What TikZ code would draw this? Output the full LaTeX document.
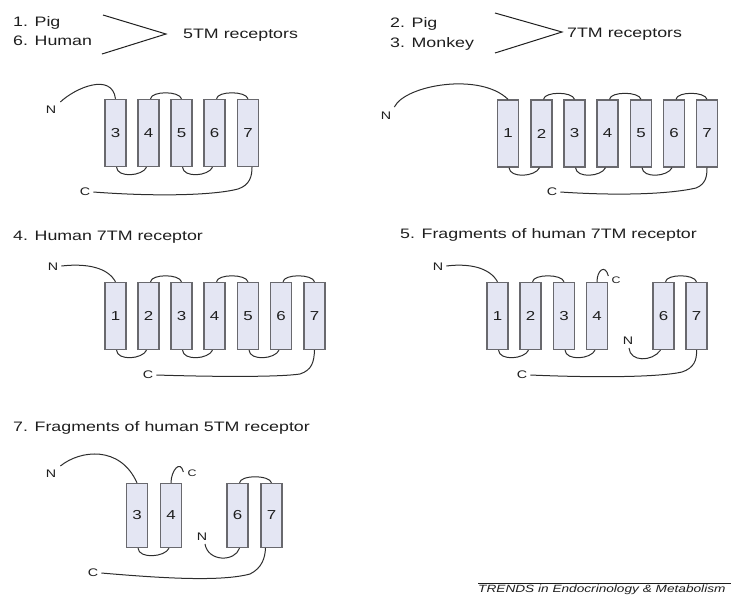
\documentclass[tikz,border=0pt]{standalone}
\usepackage{fontspec}
\setmainfont{Liberation Sans}[FakeStretch=1.3]
\usetikzlibrary{calc}
\definecolor{boxfill}{RGB}{228,230,243}
\definecolor{boxline}{RGB}{105,105,110}
\definecolor{loopc}{RGB}{45,45,45}
\definecolor{txt}{RGB}{30,30,30}
\newcommand\tmtop[2]{\draw[chain] ($(#1.north)+(2,0)$) .. controls ($(#1.north)+(3,-8)$) and ($(#2.north)+(-2,-8)$) .. (#2.north);}
\newcommand\tmbot[2]{\draw[chain] ($(#1.south)+(1,0)$) .. controls ($(#1.south)+(2,11)$) and ($(#2.south)+(-6,9)$) .. ($(#2.south)+(-2,0)$);}
\begin{document}
\begin{tikzpicture}[x=1pt,y=-1pt,
  tm/.style={draw=boxline, line width=1.4pt, fill=boxfill, minimum width=21pt, minimum height=67pt, inner sep=0pt, font=\fontsize{13}{13}\selectfont, text=txt},
  tms/.style={tm, minimum height=64pt},
  lbl/.style={font=\fontsize{13.7}{16}\selectfont, text=txt, inner sep=0pt, anchor=base west},
  nc/.style={font=\fontsize{11}{11}\selectfont, text=txt, inner sep=0pt},
  ncs/.style={font=\fontsize{9.5}{10}\selectfont, text=txt, inner sep=0pt},
  chain/.style={draw=loopc, line width=1pt},
  brk/.style={draw=txt, line width=1pt}]
\useasboundingbox (0,0) rectangle (731,598);

% ---------- Panel 1 ----------
\node[lbl] (t1a) at (13,26) {1. Pig};
\node[lbl] (t1b) at (13,45) {6. Human};
\node[lbl] (t1c) at (183,38) {5TM receptors};
\draw[brk] (103,15) -- (166,34) -- (102,54);
\node[tm] (a3) at (115.5,133) {3};
\node[tm] (a4) at (148.5,133) {4};
\node[tm] (a5) at (181.5,133) {5};
\node[tm] (a6) at (214.5,133) {6};
\node[tm] (a7) at (248,133) {7};
\node[nc] (aN) at (51,110) {N};
\node[nc] (aC) at (85,192) {C};
\draw[chain] ($(aN.north east)+(4,-4)$) .. controls (75,88) and (112,72) .. (a3.north);
\tmbot{a3}{a4} \tmtop{a4}{a5} \tmbot{a5}{a6} \tmtop{a6}{a7}
\draw[chain] ($(aC.east)+(3,0)$) .. controls (160,197) and (215,195) .. (238,189) .. controls (250,185) and (252,176) .. ($(a7.south)+(4,0)$);

% ---------- Panel 2 ----------
\node[lbl] (t2a) at (390,27) {2. Pig};
\node[lbl] (t2b) at (390,47) {3. Monkey};
\node[lbl] (t2c) at (567,37) {7TM receptors};
\draw[brk] (495,13) -- (562,32) -- (495,53);
\node[tm] (b1) at (508,133.5) {1};
\node[tm] (b2) at (541.5,133.5) {2};
\node[tm] (b3) at (574.5,133.5) {3};
\node[tm] (b4) at (607.5,133.5) {4};
\node[tm] (b5) at (641,133.5) {5};
\node[tm] (b6) at (674,133.5) {6};
\node[tm] (b7) at (707,133.5) {7};
\node[nc] (bN) at (386,116) {N};
\node[nc] (bC) at (552,192) {C};
\draw[chain] ($(bN.north east)+(3,-5)$) .. controls (405,85) and (480,72) .. (b1.north);
\tmbot{b1}{b2} \tmtop{b2}{b3} \tmbot{b3}{b4} \tmtop{b4}{b5} \tmbot{b5}{b6} \tmtop{b6}{b7}
\draw[chain] ($(bC.east)+(3,0)$) .. controls (620,196) and (670,194) .. (696,188) .. controls (706,184) and (707,176) .. (b7.south);

% ---------- Panel 3 ----------
\node[lbl] (t3) at (13,240) {4. Human 7TM receptor};
\node[tm] (c1) at (115.5,316) {1};
\node[tm] (c2) at (148.5,316) {2};
\node[tm] (c3) at (181.5,316) {3};
\node[tm] (c4) at (214.5,316) {4};
\node[tm] (c5) at (248,316) {5};
\node[tm] (c6) at (281,316) {6};
\node[tm] (c7) at (314.5,316) {7};
\node[nc] (cN) at (53,267) {N};
\node[nc] (cC) at (148,375) {C};
\draw[chain] ($(cN.east)+(3,-1)$) .. controls (88,263) and (108,268) .. (c1.north);
\tmbot{c1}{c2} \tmtop{c2}{c3} \tmbot{c3}{c4} \tmtop{c4}{c5} \tmbot{c5}{c6} \tmtop{c6}{c7}
\draw[chain] ($(cC.east)+(3,0)$) .. controls (220,377) and (280,377) .. (300,374) .. controls (312,370) and (314,362) .. (c7.south);

% ---------- Panel 4 ----------
\node[lbl] (t4) at (400,238) {5. Fragments of human 7TM receptor};
\node[tm] (d1) at (497.5,316) {1};
\node[tm] (d2) at (530.5,316) {2};
\node[tm] (d3) at (564,316) {3};
\node[tm] (d4) at (597,316) {4};
\node[tm] (d6) at (663.5,316) {6};
\node[tm] (d7) at (696.5,316) {7};
\node[nc] (dN) at (438,267) {N};
\node[ncs] (dC2) at (616,280) {C};
\node[nc] (dN2) at (628,341) {N};
\node[nc] (dC) at (522,375) {C};
\draw[chain] ($(dN.east)+(3,-1)$) .. controls (470,263) and (490,268) .. (d1.north);
\tmbot{d1}{d2} \tmtop{d2}{d3} \tmbot{d3}{d4}
\draw[chain] (d4.north) .. controls ($(d4.north)+(0,-12)$) and ($(dC2.west)+(-6,-16)$) .. ($(dC2.west)+(-3,-4)$);
\draw[chain] ($(dN2.south)+(1,3)$) .. controls (630,362) and (652,362) .. ($(d6.south)+(-3,0)$);
\tmtop{d6}{d7}
\draw[chain] ($(dC.east)+(3,0)$) .. controls (600,378) and (660,377) .. (682,372) .. controls (694,368) and (697,360) .. (d7.south);

% ---------- Panel 5 ----------
\node[lbl] (t5) at (13,431) {7. Fragments of human 5TM receptor};
\node[tms] (e3) at (137,515.5) {3};
\node[tms] (e4) at (171,515.5) {4};
\node[tms] (e6) at (237.5,515.5) {6};
\node[tms] (e7) at (271.5,515.5) {7};
\node[nc] (eN) at (51,474) {N};
\node[ncs] (eC2) at (192,473) {C};
\node[nc] (eN2) at (202,537) {N};
\node[nc] (eC) at (93,573) {C};
\draw[chain] ($(eN.north east)+(4,-4)$) .. controls (80,450) and (120,445) .. (e3.north);
\tmbot{e3}{e4}
\draw[chain] (e4.north) .. controls ($(e4.north)+(0,-12)$) and ($(eC2.west)+(-7,-14)$) .. ($(eC2.west)+(-4,-1)$);
\draw[chain] ($(eN2.south)+(3,3)$) .. controls (208,562) and (235,562) .. ($(e6.south)+(2,0)$);
\tmtop{e6}{e7}
\draw[chain] ($(eC.east)+(3,0)$) .. controls (160,578) and (220,582) .. (250,574) .. controls (262,568) and (265,558) .. ($(e7.south)+(-6,0)$);

% ---------- Footer ----------
\draw[draw=txt, line width=0.8pt] (478,583.5) -- (731,583.5);
\node[anchor=north west, inner sep=0pt, text=txt, font=\itshape\fontsize{10.5}{11}\selectfont] (foot) at (478,585) {TRENDS in Endocrinology \& Metabolism};
\end{tikzpicture}
\end{document}
